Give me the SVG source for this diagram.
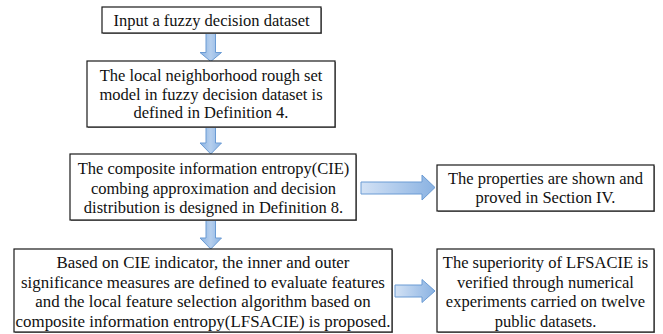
<svg xmlns="http://www.w3.org/2000/svg" width="663" height="334" viewBox="0 0 663 334">
  <style>
    .box { fill: #ffffff; stroke: #1a1a1a; stroke-width: 1.2; }
    .shadow { fill: #8a8a8a; }
    text { font-family: 'Liberation Serif', 'Times New Roman', serif; font-size: 16.5px; fill: #111111; text-anchor: middle; }
    text.big { font-size: 16.9px; }
    .varrow { fill: url(#gv); stroke: #6a9bd4; stroke-width: 1; }
    .harrow { fill: url(#gh); stroke: #6a9bd4; stroke-width: 1; }
  </style>
  <defs>
    <linearGradient id="gv" x1="0" y1="0" x2="1" y2="0">
      <stop offset="0" stop-color="#8ab2e2"/>
      <stop offset="0.5" stop-color="#b5cfee"/>
      <stop offset="1" stop-color="#8ab2e2"/>
    </linearGradient>
    <linearGradient id="gh" x1="0" y1="0" x2="1" y2="0">
      <stop offset="0" stop-color="#d3e2f5"/>
      <stop offset="1" stop-color="#8ab2e2"/>
    </linearGradient>
  </defs>

  <!-- flow arrows -->
  <g id="connectors">
    <path class="varrow" d="M206,33.5 H215.5 V52.5 H221.5 L210.75,61.5 L200,52.5 H206 Z"/>
    <path class="varrow" d="M206,127.5 H215.5 V143 H221.5 L210.75,154 L200,143 H206 Z"/>
    <path class="varrow" d="M206,220.5 H215.5 V238 H221.5 L210.75,249 L200,238 H206 Z"/>
    <path class="harrow" d="M361,182 H422 V175 L435,187.5 L422,200 V194 H361 Z"/>
    <path class="harrow" d="M395,285 H422 V279.5 L435,291 L422,302.5 V297 H395 Z"/>
  </g>

  <g id="input">
    <rect class="shadow" x="103" y="8" width="219" height="26"/>
    <rect class="box" x="102" y="7" width="219" height="26"/>
    <text x="211.5" y="26">Input a fuzzy decision dataset</text>
  </g>

  <g id="local-model">
    <rect class="shadow" x="88" y="62" width="248" height="66"/>
    <rect class="box" x="87" y="61" width="248" height="66"/>
    <text x="211" y="81">The local neighborhood rough set</text>
    <text x="211" y="99.5">model in fuzzy decision dataset is</text>
    <text x="211" y="118">defined in Definition 4.</text>
  </g>

  <g id="cie">
    <rect class="shadow" x="71" y="155" width="286" height="66"/>
    <rect class="box" x="70" y="154" width="286" height="66"/>
    <text x="213.5" y="174">The composite information entropy(CIE)</text>
    <text x="213.5" y="193.5">combing approximation and decision</text>
    <text x="213.5" y="213">distribution is designed in Definition 8.</text>
  </g>

  <g id="properties">
    <rect class="shadow" x="438" y="166" width="217" height="46"/>
    <rect class="box" x="437" y="165" width="217" height="46"/>
    <text x="545.5" y="184">The properties are shown and</text>
    <text x="545.5" y="203">proved in Section IV.</text>
  </g>

  <g id="lfsacie">
    <rect class="shadow" x="15" y="250" width="378" height="83"/>
    <rect class="box" x="14" y="249" width="378" height="83"/>
    <text class="big" x="203" y="268">Based on CIE indicator, the inner and outer</text>
    <text class="big" x="203" y="287.5">significance measures are defined to evaluate features</text>
    <text class="big" x="203" y="307">and the local feature selection algorithm based on</text>
    <text class="big" x="203" y="326.5">composite information entropy(LFSACIE) is proposed.</text>
  </g>

  <g id="experiments">
    <rect class="shadow" x="438" y="250" width="217" height="83"/>
    <rect class="box" x="437" y="249" width="217" height="83"/>
    <text x="545.5" y="268">The superiority of LFSACIE is</text>
    <text x="545.5" y="287.5">verified through numerical</text>
    <text x="545.5" y="307">experiments carried on twelve</text>
    <text x="545.5" y="326.5">public datasets.</text>
  </g>
</svg>
